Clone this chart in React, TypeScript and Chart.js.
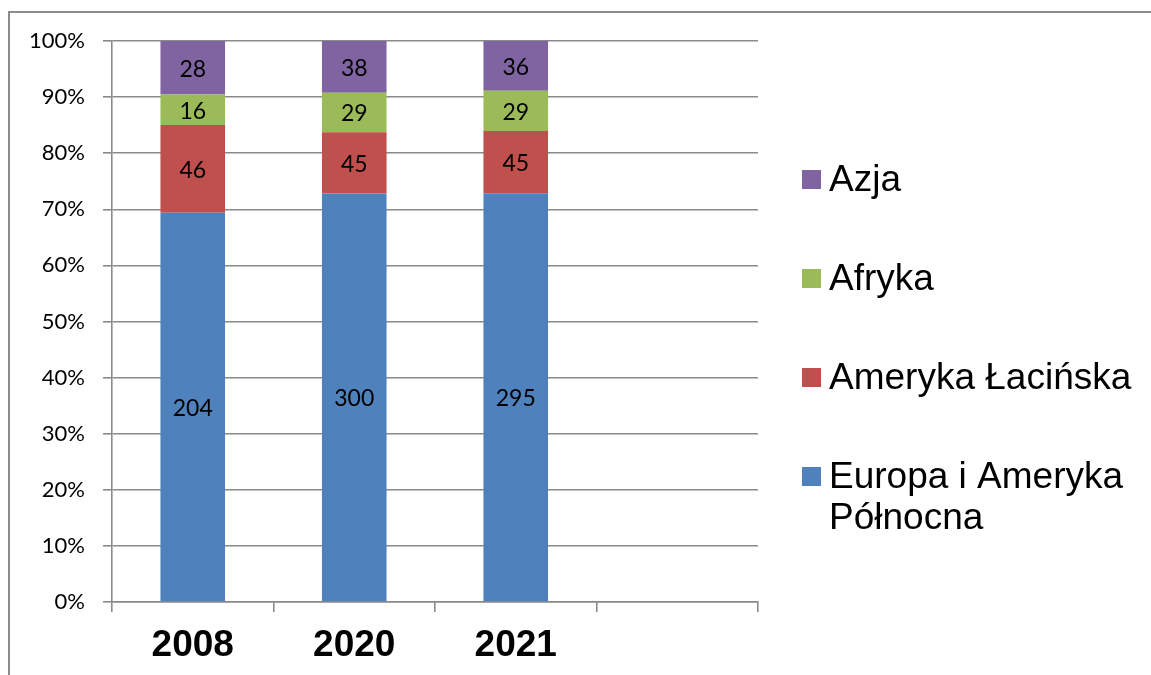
import { useEffect, useRef } from "react";
import { Chart, registerables } from "chart.js";

Chart.register(...registerables);

// categories (the last slot is empty in the original chart)
const years = ["2008", "2020", "2021", ""];

// counts per region
const europaNA = [204, 300, 295];
const amerykaLac = [46, 45, 45];
const afryka = [16, 29, 29];
const azja = [28, 38, 36];

const seriesNames = [
  "Europa i Ameryka Północna",
  "Ameryka Łacińska",
  "Afryka",
  "Azja",
];
const seriesColors = ["#4F81BD", "#C0504D", "#9BBB59", "#8064A2"];

const GRID = "#8a8a8a";

const seriesCounts = [europaNA, amerykaLac, afryka, azja];
const totals = europaNA.map((_, i) =>
  seriesCounts.reduce((s, arr) => s + arr[i], 0)
);

// numbers in the middle of every segment
const valueLabels = {
  id: "valueLabels",
  afterDatasetsDraw(chart: any) {
    const { ctx } = chart;
    ctx.save();
    ctx.font = "23px Lato";
    ctx.fillStyle = "#000";
    ctx.textAlign = "center";
    ctx.textBaseline = "alphabetic";
    chart.data.datasets.forEach((ds: any, di: number) => {
      const meta = chart.getDatasetMeta(di);
      meta.data.forEach((bar: any, i: number) => {
        const n = ds.counts[i];
        if (n == null) return;
        const { x, y } = bar.getCenterPoint();
        ctx.fillText(String(n), x, y + 9);
      });
    });
    ctx.restore();
  },
};

function wrap(ctx: CanvasRenderingContext2D, text: string, maxW: number) {
  const words = text.split(" ");
  const lines: string[] = [];
  let cur = "";
  for (const w of words) {
    const t = cur ? cur + " " + w : w;
    if (cur && ctx.measureText(t).width > maxW) {
      lines.push(cur);
      cur = w;
    } else cur = t;
  }
  if (cur) lines.push(cur);
  return lines;
}

// legend on the right, top entry = last series
const sideLegend = {
  id: "sideLegend",
  afterDraw(chart: any) {
    const { ctx, chartArea } = chart;
    const boxX = chartArea.right + 44;
    const textX = boxX + 27;
    const maxW = chart.width - textX - 4;
    let base = chartArea.top + 150;
    ctx.save();
    ctx.font = "37px 'Liberation Sans', Arial, sans-serif";
    ctx.textAlign = "left";
    ctx.textBaseline = "alphabetic";
    const ds = chart.data.datasets;
    for (let di = ds.length - 1; di >= 0; di--) {
      ctx.fillStyle = ds[di].backgroundColor;
      ctx.fillRect(boxX, base - 21, 19, 19);
      ctx.fillStyle = "#000";
      wrap(ctx, ds[di].label, maxW).forEach((line, k) =>
        ctx.fillText(line, textX, base + k * 41)
      );
      base += 99;
    }
    ctx.restore();
  },
};

export default function App() {
  const canvasRef = useRef<HTMLCanvasElement | null>(null);

  useEffect(() => {
    if (!canvasRef.current) return;

    const data = {
      labels: years,
      datasets: seriesCounts.map((counts, si) => ({
        label: seriesNames[si],
        counts,
        data: counts.map((v, i) => (v / totals[i]) * 100),
        backgroundColor: seriesColors[si],
        borderWidth: 0,
        categoryPercentage: 1,
        barPercentage: 0.4,
      })),
    };

    const c = new Chart(canvasRef.current, {
      type: "bar",
      data: data as any,
      options: {
        animation: false,
        responsive: true,
        maintainAspectRatio: false,
        layout: { padding: { top: 28, right: 393, bottom: 0, left: 0 } },
        scales: {
          x: {
            stacked: true,
            afterFit: (s: any) => {
              s.height = 72;
            },
            grid: {
              offset: true,
              drawOnChartArea: false,
              drawTicks: true,
              tickLength: 10,
              color: GRID,
              lineWidth: 1.6,
            },
            border: { display: true, color: GRID, width: 1.6 },
            ticks: {
              color: "#000",
              padding: 12,
              font: { family: "'Liberation Sans', Arial, sans-serif", size: 37, weight: "bold" },
            },
          },
          y: {
            stacked: true,
            min: 0,
            max: 100,
            afterFit: (s: any) => {
              s.width = 102;
            },
            grid: { color: GRID, lineWidth: 1.6, tickLength: 9 },
            border: { display: true, color: GRID, width: 1.6 },
            ticks: {
              stepSize: 10,
              color: "#000",
              padding: 18,
              font: { family: "Lato", size: 22, lineHeight: 0.8 },
              callback: (v: any) => v + "%",
            },
          },
        },
        plugins: {
          legend: { display: false },
          title: { display: false },
          tooltip: { enabled: false },
        },
      },
      plugins: [valueLabels, sideLegend],
    });

    return () => c.destroy();
  }, []);

  return (
    <div
      style={{
        position: "fixed",
        left: 8,
        top: 11,
        right: 0,
        bottom: 0,
        borderTop: "2px solid #8c8c8c",
        borderLeft: "2px solid #8c8c8c",
        overflow: "hidden",
      }}
    >
      <div style={{ position: "relative", width: 1141, height: 661 }}>
        <canvas ref={canvasRef} />
      </div>
    </div>
  );
}
